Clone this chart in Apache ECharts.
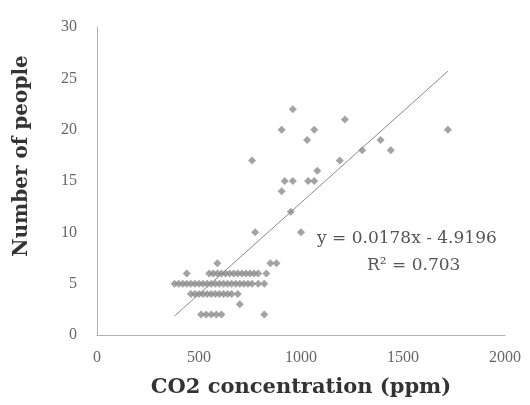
<!DOCTYPE html>
<html>
<head>
<meta charset="utf-8">
<script src="https://cdn.jsdelivr.net/npm/echarts@6/dist/echarts.min.js"></script>
<style>html,body{margin:0;padding:0;background:#fff;}#c{width:530px;height:405px;}</style>
</head>
<body>
<div id="c"></div>
<script>
// CO2 concentration (ppm) values and the matching number of people
const co2 = [
  510, 535, 560, 585, 610, 820,
  700,
  460, 480, 500, 520, 540, 560, 580, 600, 620, 640, 660, 690,
  380, 400, 420, 440, 460, 480, 500, 520, 540, 560, 580, 600, 620, 640, 660, 680, 700, 720, 740, 760, 790, 820,
  440, 550, 570, 590, 610, 630, 650, 670, 690, 710, 730, 750, 770, 790, 830,
  590, 850, 880,
  775, 1000,
  950,
  905,
  920, 960, 1035, 1065,
  1080,
  760, 1190,
  1300, 1440,
  1030, 1390,
  905, 1065, 1720,
  1215,
  960
];
const people = [
  2, 2, 2, 2, 2, 2,
  3,
  4, 4, 4, 4, 4, 4, 4, 4, 4, 4, 4, 4,
  5, 5, 5, 5, 5, 5, 5, 5, 5, 5, 5, 5, 5, 5, 5, 5, 5, 5, 5, 5, 5, 5,
  6, 6, 6, 6, 6, 6, 6, 6, 6, 6, 6, 6, 6, 6, 6,
  7, 7, 7,
  10, 10,
  12,
  14,
  15, 15, 15, 15,
  16,
  17, 17,
  18, 18,
  19, 19,
  20, 20, 20,
  21,
  22
];
// Linear trend line coefficients [slope, intercept] and R²
const trendCoef = [0.0178, -4.9196];
const rSquared = [0.703];
const xTicks = [0, 500, 1000, 1500, 2000];
const yTicks = [0, 5, 10, 15, 20, 25, 30];

const pts = co2.map((x, i) => [x, people[i]]);
const xMinD = Math.min(...co2), xMaxD = Math.max(...co2);
const trend = [xMinD, xMaxD].map(x => [x, trendCoef[0] * x + trendCoef[1]]);

const serif = '"Liberation Serif", "DejaVu Serif", serif';
const wideSerif = '"DejaVu Serif", "Liberation Serif", serif';
const chart = echarts.init(document.getElementById('c'), null, {renderer: 'canvas'});
chart.setOption({
  backgroundColor: '#fff',
  animation: false,
  grid: {left: 97, right: 25, top: 27, bottom: 70},
  xAxis: {
    type: 'value', min: xTicks[0], max: xTicks[xTicks.length - 1], interval: 500,
    name: 'CO2 concentration (ppm)', nameLocation: 'middle', nameGap: 42,
    nameTextStyle: {fontFamily: wideSerif, fontWeight: 'bold', fontSize: 21, color: '#333'},
    axisLine: {lineStyle: {color: '#b0b0b0', width: 1}},
    axisTick: {show: false},
    splitLine: {show: false},
    axisLabel: {fontFamily: serif, fontSize: 16, color: '#666', margin: 15, formatter: v => String(v)}
  },
  yAxis: {
    type: 'value', min: yTicks[0], max: yTicks[yTicks.length - 1], interval: 5,
    axisLine: {show: true, lineStyle: {color: '#b0b0b0', width: 1}},
    axisTick: {show: false},
    splitLine: {show: false},
    axisLabel: {fontFamily: serif, fontSize: 16, color: '#666', margin: 20}
  },
  series: [
    {
      type: 'scatter', data: pts, symbol: 'diamond', symbolSize: 8,
      itemStyle: {color: '#8c8c8c'}
    },
    {
      type: 'line', data: trend, symbol: 'none',
      lineStyle: {color: '#8a8a8a', width: 1}
    }
  ],
  graphic: [
    {
      type: 'text', x: 22, y: 156, rotation: Math.PI / 2,
      style: {text: 'Number of people', fontFamily: wideSerif, fontWeight: 'bold', fontSize: 20, fill: '#333', align: 'center', verticalAlign: 'middle'}
    },
    {
      type: 'text', left: 317, top: 230,
      style: {text: 'y = ' + trendCoef[0] + 'x - ' + Math.abs(trendCoef[1]), fontFamily: wideSerif, fontSize: 17, fill: '#555'}
    },
    {
      type: 'text', left: 367, top: 257,
      style: {text: 'R² = ' + rSquared[0], fontFamily: wideSerif, fontSize: 17, fill: '#555'}
    }
  ]
});
</script>
</body>
</html>
